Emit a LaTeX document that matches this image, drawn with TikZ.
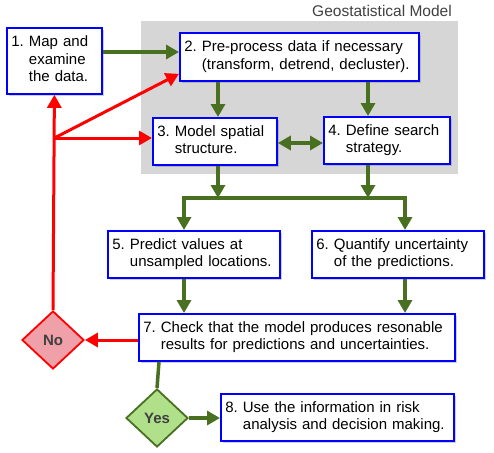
\documentclass[tikz,border=0pt]{standalone}
\usepackage{fontspec}
\setmainfont{Liberation Sans}
\usepackage{tikz}
\usetikzlibrary{shadows}
\usetikzlibrary{positioning}
\usetikzlibrary{arrows.meta,shapes.geometric}
\usetikzlibrary{calc}

\definecolor{geogreen}{RGB}{72,112,32}
\definecolor{nofill}{RGB}{240,160,168}
\definecolor{yesfill}{RGB}{176,224,138}
\definecolor{labelgray}{RGB}{64,64,64}

% number, then the lines of the step hanging under the first word
\newcommand{\steptext}[2]{#1\ \begin{tabular}[t]{@{}l@{}}#2\end{tabular}}

\tikzset{
  >={Triangle[width=14pt,length=13pt]},
  stepbox/.style={draw=blue, line width=1.8pt, fill=white, anchor=north west,
    align=left, inner xsep=4.5pt, inner ysep=0pt,
    font=\fontsize{15}{17.5}\selectfont,
    drop shadow={shadow xshift=2.5pt, shadow yshift=-2.5pt, opacity=0.3, fill=black!60}},
  flow/.style={->, draw=geogreen, line width=3.5pt},
  flowline/.style={draw=geogreen, line width=3.5pt},
  backflow/.style={->, draw=red, line width=3pt},
  decision/.style={diamond, aspect=1, inner sep=0pt, minimum width=62pt, minimum height=58pt,
    line width=1.8pt, text=labelgray, font=\fontsize{15}{17}\selectfont\bfseries},
}

\begin{document}
\begin{tikzpicture}[x=1pt, y=-1pt]

  \useasboundingbox (0,0) rectangle (494,452);

  %geostatistical model area
  \fill[black!16] (141,21) rectangle (458,174);
  \node[anchor=east, inner sep=0pt, text=labelgray, font=\fontsize{15.5}{17}\selectfont] (geolabel) at (452,11) {Geostatistical Model};

  %steps
  \node[stepbox, text width=86pt, minimum height=66pt] (map) at (6,27) {\steptext{1.}{Map and\\examine\\the data.}};
  \node[stepbox, text width=230pt, minimum height=48pt] (pre) at (179,32) {\steptext{2.}{Pre-process data if necessary\\(transform, detrend, decluster).}};
  \node[stepbox, text width=115pt, minimum height=47pt] (struct) at (152,117) {\steptext{3.}{Model spatial\\structure.}};
  \node[stepbox, text width=117pt, minimum height=47pt] (search) at (323,116) {\steptext{4.}{Define search\\strategy.}};
  \node[stepbox, text width=163pt, minimum height=47pt] (predict) at (107,230) {\steptext{5.}{Predict values at\\unsampled locations.}};
  \node[stepbox, text width=163pt, minimum height=47pt] (uncert) at (311,230) {\steptext{6.}{Quantify uncertainty\\of the predictions.}};
  \node[stepbox, text width=307pt, minimum height=47pt] (check) at (138,313) {\steptext{7.}{Check that the model produces resonable\\results for predictions and uncertainties.}};
  \node[stepbox, text width=224pt, minimum height=47pt] (use) at (220,393) {\steptext{8.}{Use the information in risk\\analysis and decision making.}};

  %decisions
  \node[decision, draw=red, fill=nofill] (no) at (53,340) {No};
  \node[decision, draw=geogreen, fill=yesfill] (yes) at (157,418) {Yes};

  %columns of the green arrows
  \coordinate (a) at (218,0);
  \coordinate (b) at (368,0);
  \coordinate (c) at (184,198);
  \coordinate (d) at (405,198);

  \draw[flow] (map.east |- 0,52) -- (pre.west |- 0,52);
  \draw[flow] (pre.south -| a) -- (struct.north -| a);
  \draw[flow] (pre.south -| b) -- (search.north -| b);
  \draw[flow, <->] (struct.east |- 0,143) -- (search.west |- 0,143);
  \draw[flow] (struct.south -| a) -- (a |- c);
  \draw[flow] (search.south -| b) -- (b |- c);
  \draw[flowline] ([xshift=-1.75pt]c) -- ([xshift=1.75pt]d);
  \draw[flow] (c) -- (predict.north -| c);
  \draw[flow] (d) -- (uncert.north -| d);
  \draw[flow] (predict.south -| c) -- (check.north -| c);
  \draw[flow] (uncert.south -| d) -- (check.north -| d);
  \draw[flowline] (check.south -| 159,0) -- (yes.north);
  \draw[flow] (yes.east) -- (use.west |- yes);

  %back to the start
  \coordinate (fork) at (map.south |- 0,138);
  \draw[backflow] (check.west |- no) -- (no.east);
  \draw[backflow] (no.north) -- (map.south);
  \draw[backflow] (fork) -- (fork -| struct.west);
  \draw[backflow] (fork) -- ([yshift=8pt]pre.south west);

\end{tikzpicture}
\end{document}
